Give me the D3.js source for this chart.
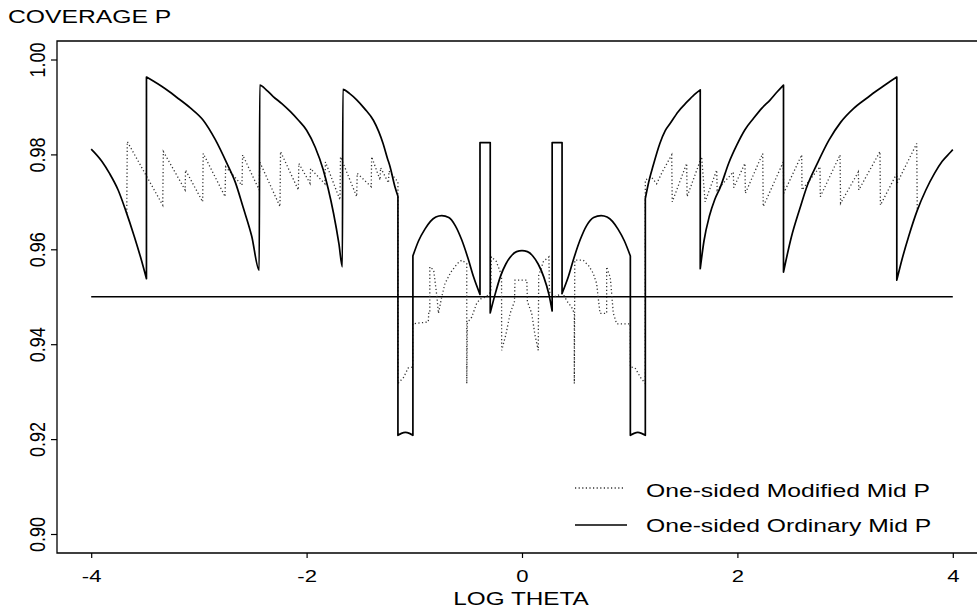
<!DOCTYPE html>
<html>
<head>
<meta charset="utf-8">
<script src="https://cdn.jsdelivr.net/npm/d3@7"></script>
<style>
body { margin: 0; background: #fff; }
text { font-family: "Liberation Sans", Arial, sans-serif; fill: #000; }
</style>
</head>
<body>
<svg id="chart" width="977" height="612"></svg>
<script>
var yTicks = [0.90, 0.92, 0.94, 0.96, 0.98, 1.00];
var xTicks = [-4, -2, 0, 2, 4];
var refLevel = 0.95;
var seriesNames = ["One-sided Modified Mid P", "One-sided Ordinary Mid P"];

// [log theta, coverage]
var ordinaryMidP = [
  [-4.00, 0.9811], [-3.90, 0.9785], [-3.83, 0.9760], [-3.75, 0.9725], [-3.68, 0.9682], [-3.60, 0.9627], [-3.54, 0.9582], [-3.487, 0.9538],
  [-3.487, 0.9963], [-3.42, 0.9954], [-3.35, 0.9944], [-3.28, 0.9933], [-3.21, 0.9921], [-3.08, 0.9898], [-2.96, 0.9872], [-2.85, 0.9832],
  [-2.74, 0.9781], [-2.66, 0.9740], [-2.59, 0.9689], [-2.51, 0.9628], [-2.44, 0.9556],
  [-2.435, 0.9946], [-2.37, 0.9935], [-2.31, 0.9922], [-2.23, 0.9907], [-2.15, 0.9890], [-2.08, 0.9873], [-2.00, 0.9851], [-1.92, 0.9815],
  [-1.845, 0.9767], [-1.80, 0.9728], [-1.75, 0.9676], [-1.70, 0.9612], [-1.668, 0.9563],
  [-1.663, 0.9937], [-1.60, 0.9928], [-1.535, 0.9915], [-1.46, 0.9896], [-1.38, 0.9872], [-1.33, 0.9848], [-1.29, 0.9823], [-1.25, 0.9792],
  [-1.225, 0.9774], [-1.18, 0.9732], [-1.152, 0.9712],
  [-1.152, 0.9208], [-1.12, 0.9212], [-1.083, 0.9214], [-1.045, 0.9212], [-1.013, 0.9208],
  [-1.013, 0.9586], [-0.96, 0.9618], [-0.90, 0.9643], [-0.85, 0.9659], [-0.80, 0.9668], [-0.745, 0.9671], [-0.68, 0.9667], [-0.62, 0.9650],
  [-0.56, 0.9620], [-0.50, 0.9580], [-0.45, 0.9542], [-0.39, 0.9505],
  [-0.39, 0.9825], [-0.295, 0.9825], [-0.295, 0.9466],
  [-0.25, 0.9505], [-0.20, 0.9543], [-0.15, 0.9569], [-0.10, 0.9586], [-0.05, 0.9595], [0.00, 0.9597], [0.05, 0.9595], [0.10, 0.9586],
  [0.15, 0.9569], [0.20, 0.9543], [0.25, 0.9505], [0.28, 0.9470],
  [0.28, 0.9825], [0.372, 0.9825], [0.372, 0.9507],
  [0.43, 0.9542], [0.48, 0.9580], [0.54, 0.9620], [0.60, 0.9650], [0.665, 0.9667], [0.735, 0.9671], [0.79, 0.9668], [0.84, 0.9659],
  [0.89, 0.9643], [0.95, 0.9618], [1.006, 0.9586],
  [1.006, 0.9208], [1.04, 0.9212], [1.075, 0.9214], [1.11, 0.9212], [1.145, 0.9208],
  [1.145, 0.9707], [1.17, 0.9735], [1.22, 0.9778], [1.28, 0.9823], [1.33, 0.9850], [1.375, 0.9865], [1.45, 0.9890], [1.53, 0.9910],
  [1.60, 0.9926], [1.655, 0.9936],
  [1.655, 0.9559], [1.69, 0.9618], [1.74, 0.9670], [1.79, 0.9705], [1.84, 0.9730], [1.92, 0.9782], [1.995, 0.9820], [2.07, 0.9852],
  [2.15, 0.9876], [2.23, 0.9898], [2.305, 0.9915], [2.37, 0.9932], [2.428, 0.9946],
  [2.428, 0.9552], [2.50, 0.9625], [2.58, 0.9686], [2.65, 0.9735], [2.74, 0.9780], [2.85, 0.9830], [2.96, 0.9868], [3.08, 0.9897],
  [3.21, 0.9920], [3.28, 0.9932], [3.35, 0.9943], [3.42, 0.9954], [3.48, 0.9963],
  [3.48, 0.9535], [3.53, 0.9580], [3.59, 0.9627], [3.67, 0.9682], [3.75, 0.9725], [3.83, 0.9760], [3.90, 0.9785], [3.98, 0.9805], [4.00, 0.9810]
];

var modifiedMidP = [
  [-3.67, 0.9676], [-3.665, 0.9827], [-3.336, 0.9693], [-3.33, 0.9806], [-3.128, 0.9725], [-3.124, 0.9767], [-2.965, 0.9700], [-2.96, 0.9802],
  [-2.757, 0.9711], [-2.752, 0.9774], [-2.60, 0.9735], [-2.594, 0.9799], [-2.44, 0.9725], [-2.435, 0.9784], [-2.247, 0.9690], [-2.242, 0.9806],
  [-2.077, 0.9725], [-2.072, 0.9781], [-1.968, 0.9739], [-1.963, 0.9770], [-1.83, 0.9738], [-1.825, 0.9784], [-1.69, 0.9704], [-1.685, 0.9795],
  [-1.535, 0.9711], [-1.53, 0.9760], [-1.40, 0.9732], [-1.396, 0.9795], [-1.318, 0.9746], [-1.313, 0.9772], [-1.24, 0.9740], [-1.235, 0.9765],
  [-1.152, 0.9742],
  [-1.152, 0.9317], [-1.10, 0.9330], [-1.056, 0.9350], [-1.015, 0.9352], [-1.015, 0.9443], [-0.87, 0.9447], [-0.866, 0.9465], [-0.856, 0.9465],
  [-0.856, 0.9563], [-0.82, 0.9556], [-0.79, 0.9500], [-0.776, 0.9465], [-0.745, 0.9500], [-0.715, 0.9528], [-0.66, 0.9552], [-0.60, 0.9570],
  [-0.56, 0.9577], [-0.513, 0.9570], [-0.513, 0.9317], [-0.508, 0.9445], [-0.467, 0.9457], [-0.421, 0.9486], [-0.39, 0.9495], [-0.33, 0.9500],
  [-0.29, 0.9510], [-0.285, 0.9584], [-0.24, 0.9575], [-0.19, 0.9545], [-0.189, 0.9387], [-0.15, 0.9420], [-0.11, 0.9465], [-0.07, 0.9490],
  [-0.065, 0.9535], [0.045, 0.9535], [0.05, 0.9490], [0.09, 0.9465], [0.12, 0.9420], [0.151, 0.9387], [0.155, 0.9545], [0.20, 0.9575],
  [0.25, 0.9584], [0.255, 0.9510], [0.30, 0.9500], [0.378, 0.9507], [0.42, 0.9490], [0.461, 0.9478], [0.486, 0.9465], [0.486, 0.9317],
  [0.49, 0.9577], [0.569, 0.9577], [0.62, 0.9565], [0.66, 0.9550], [0.693, 0.9528], [0.724, 0.9465], [0.786, 0.9465], [0.786, 0.9563],
  [0.82, 0.9540], [0.848, 0.9465], [0.879, 0.9443], [1.006, 0.9443], [1.006, 0.9352], [1.05, 0.9350], [1.10, 0.9330], [1.145, 0.9317],
  [1.145, 0.9746], [1.20, 0.9753], [1.25, 0.9738], [1.30, 0.9762], [1.39, 0.9799], [1.395, 0.9700], [1.529, 0.9781], [1.533, 0.9711],
  [1.668, 0.9795], [1.70, 0.9700], [1.808, 0.9767], [1.812, 0.9725], [1.962, 0.9763], [1.966, 0.9730], [2.07, 0.9781], [2.074, 0.9718],
  [2.235, 0.9802], [2.24, 0.9690], [2.426, 0.9784], [2.43, 0.9718], [2.597, 0.9799], [2.60, 0.9725], [2.767, 0.9774], [2.77, 0.9711],
  [2.953, 0.9799], [2.958, 0.9697], [3.123, 0.9763], [3.127, 0.9725], [3.324, 0.9806], [3.328, 0.9693], [3.48, 0.9760], [3.484, 0.9740],
  [3.665, 0.9823], [3.67, 0.9682]
];

var svg = d3.select('#chart');
var frame = {left: 57, top: 41, bottom: 553, right: 977};

var x = d3.scaleLinear().domain([-4, 4]).range([91.2, 952.8]);
var y = d3.scaleLinear().domain([0.90, 1.00]).range([534, 59.5]);

var line = d3.line()
  .x(function(d) { return x(d[0]); })
  .y(function(d) { return y(d[1]); });
var smooth = d3.line()
  .x(function(d) { return x(d[0]); })
  .y(function(d) { return y(d[1]); })
  .curve(d3.curveMonotoneX);

// break a series where it jumps straight up or down (same x twice)
function splitAtJumps(pts) {
  var segs = [[pts[0]]];
  for (var i = 1; i < pts.length; i++) {
    if (pts[i][0] === pts[i - 1][0]) segs.push([pts[i]]);
    else segs[segs.length - 1].push(pts[i]);
  }
  return segs;
}

// smooth arcs joined by vertical jumps, as one path
function jumpPath(pts) {
  return splitAtJumps(pts).map(function(s, i) {
    var p = smooth(s);
    return i ? 'L' + p.slice(1) : p;
  }).join('');
}

// frame (left, top and bottom; right side runs off the page)
svg.append('path')
  .attr('d', 'M' + frame.right + ',' + frame.top + 'H' + frame.left + 'V' + frame.bottom + 'H' + frame.right)
  .attr('fill', 'none').attr('stroke', '#000').attr('stroke-width', 1.3);

// y axis, labels turned up the page
var yAxis = svg.append('g')
  .attr('transform', 'translate(' + frame.left + ',0)')
  .attr('font-family', null).attr('font-size', null)
  .call(d3.axisLeft(y).tickValues(yTicks).tickSize(6).tickFormat(d3.format('.2f')));
yAxis.select('.domain').remove();
yAxis.selectAll('line').attr('stroke', '#000').attr('stroke-width', 1.2);
yAxis.selectAll('text')
  .attr('x', null).attr('dy', null)
  .attr('font-size', 18).attr('text-anchor', 'middle').attr('fill', '#000')
  .attr('transform', 'translate(-12,0) scale(1.2,1) rotate(-90)');

// x axis
var xAxis = svg.append('g')
  .attr('transform', 'translate(0,' + frame.bottom + ')')
  .attr('font-family', null).attr('font-size', null)
  .call(d3.axisBottom(x).tickValues(xTicks).tickSize(5).tickFormat(function(d) { return String(d); }));
xAxis.select('.domain').remove();
xAxis.selectAll('line').attr('stroke', '#000').attr('stroke-width', 1.2);
xAxis.selectAll('text')
  .attr('y', null).attr('dy', null)
  .attr('font-size', 17).attr('text-anchor', 'middle').attr('fill', '#000')
  .attr('transform', 'translate(0,29) scale(1.3,1)');

// 0.95 nominal level
svg.append('line')
  .attr('x1', x(-4)).attr('x2', x(4))
  .attr('y1', y(refLevel)).attr('y2', y(refLevel))
  .attr('stroke', '#000').attr('stroke-width', 1.3);

svg.append('path').datum(modifiedMidP)
  .attr('d', line)
  .attr('fill', 'none').attr('stroke', '#333').attr('stroke-width', 1.3)
  .attr('stroke-dasharray', '1.2,2.4');

svg.append('path')
  .attr('d', jumpPath(ordinaryMidP))
  .attr('fill', 'none').attr('stroke', '#000').attr('stroke-width', 1.7)
  .attr('stroke-linejoin', 'round');

function stretchText(tx, ty, str, size, anchor) {
  svg.append('text')
    .attr('transform', 'translate(' + tx + ',' + ty + ') scale(1.3,1)')
    .attr('font-size', size)
    .attr('text-anchor', anchor || 'start')
    .text(str);
}

stretchText(8, 22.7, 'COVERAGE P', 19);
stretchText(521, 605, 'LOG THETA', 18.7, 'middle');

// legend
var legend = svg.append('g');
legend.append('line')
  .attr('x1', 575).attr('x2', 623).attr('y1', 488).attr('y2', 488)
  .attr('stroke', '#333').attr('stroke-width', 1.3).attr('stroke-dasharray', '1.2,2.4');
legend.append('line')
  .attr('x1', 575).attr('x2', 627).attr('y1', 525).attr('y2', 525)
  .attr('stroke', '#000').attr('stroke-width', 1.3);
stretchText(646, 496.7, seriesNames[0], 19);
stretchText(646, 531.7, seriesNames[1], 19);
</script>
</body>
</html>
